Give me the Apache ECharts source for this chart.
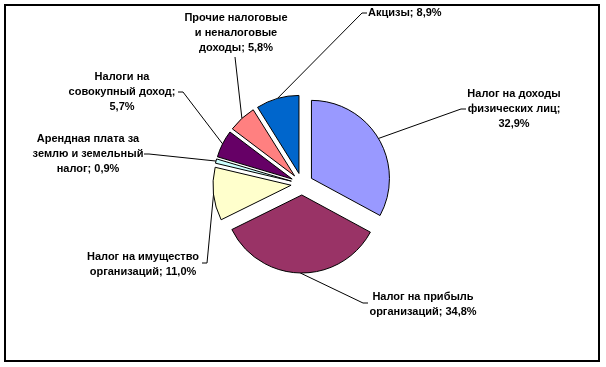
<!DOCTYPE html>
<html>
<head>
<meta charset="utf-8">
<script src="https://cdn.jsdelivr.net/npm/echarts@6/dist/echarts.min.js"></script>
<style>
  html, body { margin: 0; padding: 0; background: #fff; }
  #chart { width: 606px; height: 367px; }
</style>
</head>
<body>
<div id="chart"></div>
<script>
// Categories (with the line breaks used in the reference labels)
const categories = [
  'Налог на доходы\nфизических лиц',
  'Налог на прибыль\nорганизаций',
  'Налог на имущество\nорганизаций',
  'Арендная плата за\nземлю и земельный\nналог',
  'Налоги на\nсовокупный доход',
  'Прочие налоговые\nи неналоговые\nдоходы',
  'Акцизы'
];
// Shares, %
const shares = [32.9, 34.8, 11.0, 0.9, 5.7, 5.8, 8.9];
// Whether the percentage goes on its own line in the label
const valueOnNewLine = [true, false, false, false, true, false, false];
const colors = ['#9999FF', '#993366', '#FFFFCC', '#CCFFFF', '#660066', '#FF8080', '#0066CC'];

// Label layout (positions only): text anchor, alignment, leader-line bend and end
const labelAnchor = [[514, 109], [423, 304], [143, 264], [88, 154], [122, 92], [236, 33], [368, 13]];
const labelAlign = ['center', 'center', 'center', 'center', 'center', 'center', 'left'];
const leaderBend = [[461, 109], [363, 303], [207, 263], [149, 154], [183, 92], [235, 57], [362, 13]];
const leaderEnd = [[466, 109], [368, 303], [202, 263], [144, 154], [178, 92], [235, 57], [367, 13]];

const PIE_CENTER = [302, 184];
const PIE_RADIUS = 78;
const EXPLODE = 11;

const chart = echarts.init(document.getElementById('chart'), null, { renderer: 'canvas' });

const data = categories.map((name, i) => ({
  name: name,
  value: shares[i],
  selected: true,
  itemStyle: { color: colors[i] },
  select: { itemStyle: { color: colors[i], borderColor: '#000', borderWidth: 1 } }
}));

function labelText(i) {
  const v = shares[i].toFixed(1).replace('.', ',') + '%';
  return categories[i] + ';' + (valueOnNewLine[i] ? '\n' : ' ') + v;
}

chart.setOption({
  animation: false,
  backgroundColor: '#ffffff',
  series: [{
    type: 'pie',
    center: PIE_CENTER,
    radius: PIE_RADIUS,
    startAngle: 90,
    clockwise: true,
    selectedMode: 'multiple',
    selectedOffset: EXPLODE,
    data: data,
    itemStyle: { borderColor: '#000', borderWidth: 1 },
    emphasis: { disabled: true },
    label: { show: false },
    labelLine: { show: false }
  }]
});

// Leader lines start at the outer-arc midpoint of each (exploded) slice, taken from the library's pie layout
const seriesData = chart.getModel().getSeriesByIndex(0).getData();
const graphics = [{
  type: 'rect',
  shape: { x: 5, y: 5, width: 594, height: 356 },
  style: { fill: 'none', stroke: '#000', lineWidth: 2 },
  silent: true
}];
categories.forEach((_, i) => {
  const L = seriesData.getItemLayout(i);
  const mid = (L.startAngle + L.endAngle) / 2;
  const rr = L.r + EXPLODE;
  const start = [L.cx + rr * Math.cos(mid), L.cy + rr * Math.sin(mid)];
  graphics.push({
    type: 'polyline',
    silent: true,
    shape: { points: [start, leaderBend[i], leaderEnd[i]] },
    style: { stroke: '#000', lineWidth: 1, fill: 'none' }
  });
  graphics.push({
    type: 'text',
    silent: true,
    x: labelAnchor[i][0],
    y: labelAnchor[i][1],
    style: {
      text: labelText(i),
      align: labelAlign[i],
      verticalAlign: 'middle',
      fontFamily: 'Arial, "Liberation Sans", sans-serif',
      fontWeight: 'bold',
      fontSize: 11,
      lineHeight: 15,
      fill: '#000'
    }
  });
});
chart.setOption({ graphic: graphics });
</script>
</body>
</html>
